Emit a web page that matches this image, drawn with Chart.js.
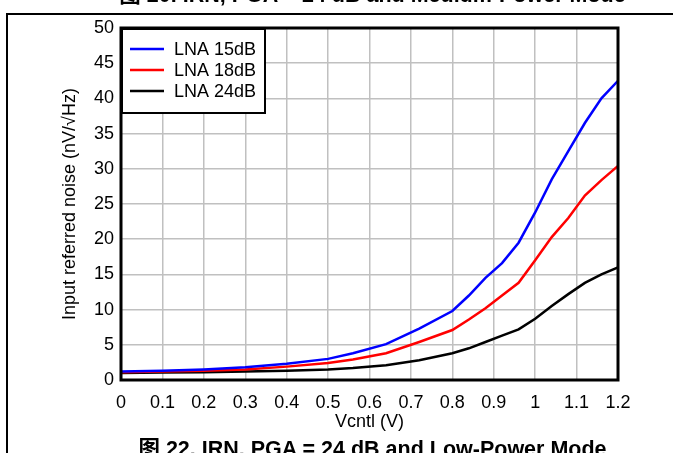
<!DOCTYPE html>
<html>
<head>
<meta charset="utf-8">
<script src="https://cdn.jsdelivr.net/npm/chart.js@4.4.1/dist/chart.umd.min.js"></script>
<style>
  body { margin: 0; background: #fff; }
  #wrap { position: relative; width: 673px; height: 453px; overflow: hidden; }
  #irn { position: absolute; left: 0; top: 0; }
  .cap { position: absolute; left: 0; width: 745px; text-align: center; font: bold 21.5px "Liberation Sans", "Noto Sans CJK SC", sans-serif; color: #000; white-space: nowrap; line-height: 24px; }
  .vline { position: absolute; left: 6px; top: 14px; width: 1.5px; height: 440px; background: #000; }
  .hline { position: absolute; left: 6px; top: 13px; width: 670px; height: 1.5px; background: #000; }
</style>
</head>
<body>
<div id="wrap">
  <canvas id="irn" width="673" height="453"></canvas>
  <div class="cap" style="top:-17px">图 20. IRN, PGA = 24 dB and Medium-Power Mode</div>
  <div class="cap" style="top:437px">图 22. IRN, PGA = 24 dB and Low-Power Mode</div>
  <div class="vline"></div>
  <div class="hline"></div>
</div>
<script>
const vcntl = [0, 0.1, 0.2, 0.3, 0.4, 0.5, 0.56, 0.64, 0.72, 0.8, 0.84, 0.88, 0.92, 0.96, 1.0, 1.04, 1.08, 1.12, 1.16, 1.2];
const lna15 = [1.2, 1.3, 1.5, 1.8, 2.3, 3.0, 3.8, 5.1, 7.3, 9.8, 12.0, 14.5, 16.6, 19.5, 23.8, 28.5, 32.5, 36.5, 40.0, 42.5];
const lna18 = [1.1, 1.2, 1.3, 1.5, 1.9, 2.4, 2.9, 3.8, 5.4, 7.1, 8.6, 10.2, 12.0, 13.8, 17.0, 20.3, 23.0, 26.2, 28.4, 30.4];
const lna24 = [1.0, 1.05, 1.1, 1.2, 1.3, 1.5, 1.7, 2.1, 2.8, 3.8, 4.5, 5.4, 6.3, 7.2, 8.7, 10.5, 12.2, 13.8, 15.0, 16.0];
const xTicks = [0, 0.1, 0.2, 0.3, 0.4, 0.5, 0.6, 0.7, 0.8, 0.9, 1, 1.1, 1.2];
const yTicks = [0, 5, 10, 15, 20, 25, 30, 35, 40, 45, 50];

const FONT = "'Liberation Sans', Arial, sans-serif";
const pts = (ys) => vcntl.map((x, i) => ({ x: x, y: ys[i] }));

// frame round the plot + boxed legend in the upper left
const boxPlugin = {
  id: "boxPlugin",
  afterDraw(chart) {
    const { ctx, chartArea: a } = chart;
    ctx.save();
    ctx.strokeStyle = "#000";
    ctx.lineWidth = 3;
    ctx.strokeRect(a.left, a.top, a.right - a.left, a.bottom - a.top);

    const bx = a.left + 1, by = a.top + 1, bw = 143, bh = 84;
    ctx.fillStyle = "#fff";
    ctx.fillRect(bx, by, bw, bh);
    ctx.lineWidth = 2;
    ctx.strokeRect(bx, by, bw, bh);
    ctx.font = "18px " + FONT;
    ctx.textBaseline = "middle";
    chart.data.datasets.forEach((ds, i) => {
      const y = by + 20 + i * 21;
      ctx.strokeStyle = ds.borderColor;
      ctx.lineWidth = 2.5;
      ctx.beginPath();
      ctx.moveTo(bx + 8, y);
      ctx.lineTo(bx + 42, y);
      ctx.stroke();
      ctx.fillStyle = "#000";
      ctx.fillText(ds.label, bx + 52, y + 1);
    });
    ctx.restore();
  },
};

new Chart(document.getElementById("irn"), {
  type: "line",
  data: {
    datasets: [
      { label: "LNA 15dB", data: pts(lna15), borderColor: "#0000ff" },
      { label: "LNA 18dB", data: pts(lna18), borderColor: "#ff0000" },
      { label: "LNA 24dB", data: pts(lna24), borderColor: "#000000" },
    ],
  },
  options: {
    responsive: false,
    animation: false,
    layout: { padding: { left: 0, right: 55, top: 28, bottom: 20 } },
    elements: {
      line: { borderWidth: 2.5, tension: 0 },
      point: { radius: 0 },
    },
    plugins: { legend: { display: false }, tooltip: { enabled: false } },
    scales: {
      x: {
        type: "linear",
        min: 0,
        max: 1.2,
        afterBuildTicks: (s) => { s.ticks = xTicks.map((v) => ({ value: v })); },
        afterFit: (s) => { s.height = 53; },
        ticks: { color: "#000", font: { family: FONT, size: 18 }, padding: 12, maxRotation: 0, callback: (v) => String(v) },
        grid: { color: "#c0c0c0", lineWidth: 1.5, drawTicks: false },
        border: { display: false },
        title: { display: true, text: "Vcntl (V)", color: "#000", font: { family: FONT, size: 18 }, padding: { top: 0, bottom: 0 } },
      },
      y: {
        min: 0,
        max: 50,
        afterBuildTicks: (s) => { s.ticks = yTicks.map((v) => ({ value: v })); },
        afterFit: (s) => { s.width = 121; },
        ticks: { color: "#000", font: { family: FONT, size: 18 }, padding: 7 },
        grid: { color: "#c0c0c0", lineWidth: 1.5, drawTicks: false },
        border: { display: false },
        title: { display: true, text: "Input referred noise (nV/\u221AHz)", color: "#000", font: { family: FONT, size: 18 }, padding: { top: 59, bottom: 0 } },
      },
    },
  },
  plugins: [boxPlugin],
});
</script>
</body>
</html>
